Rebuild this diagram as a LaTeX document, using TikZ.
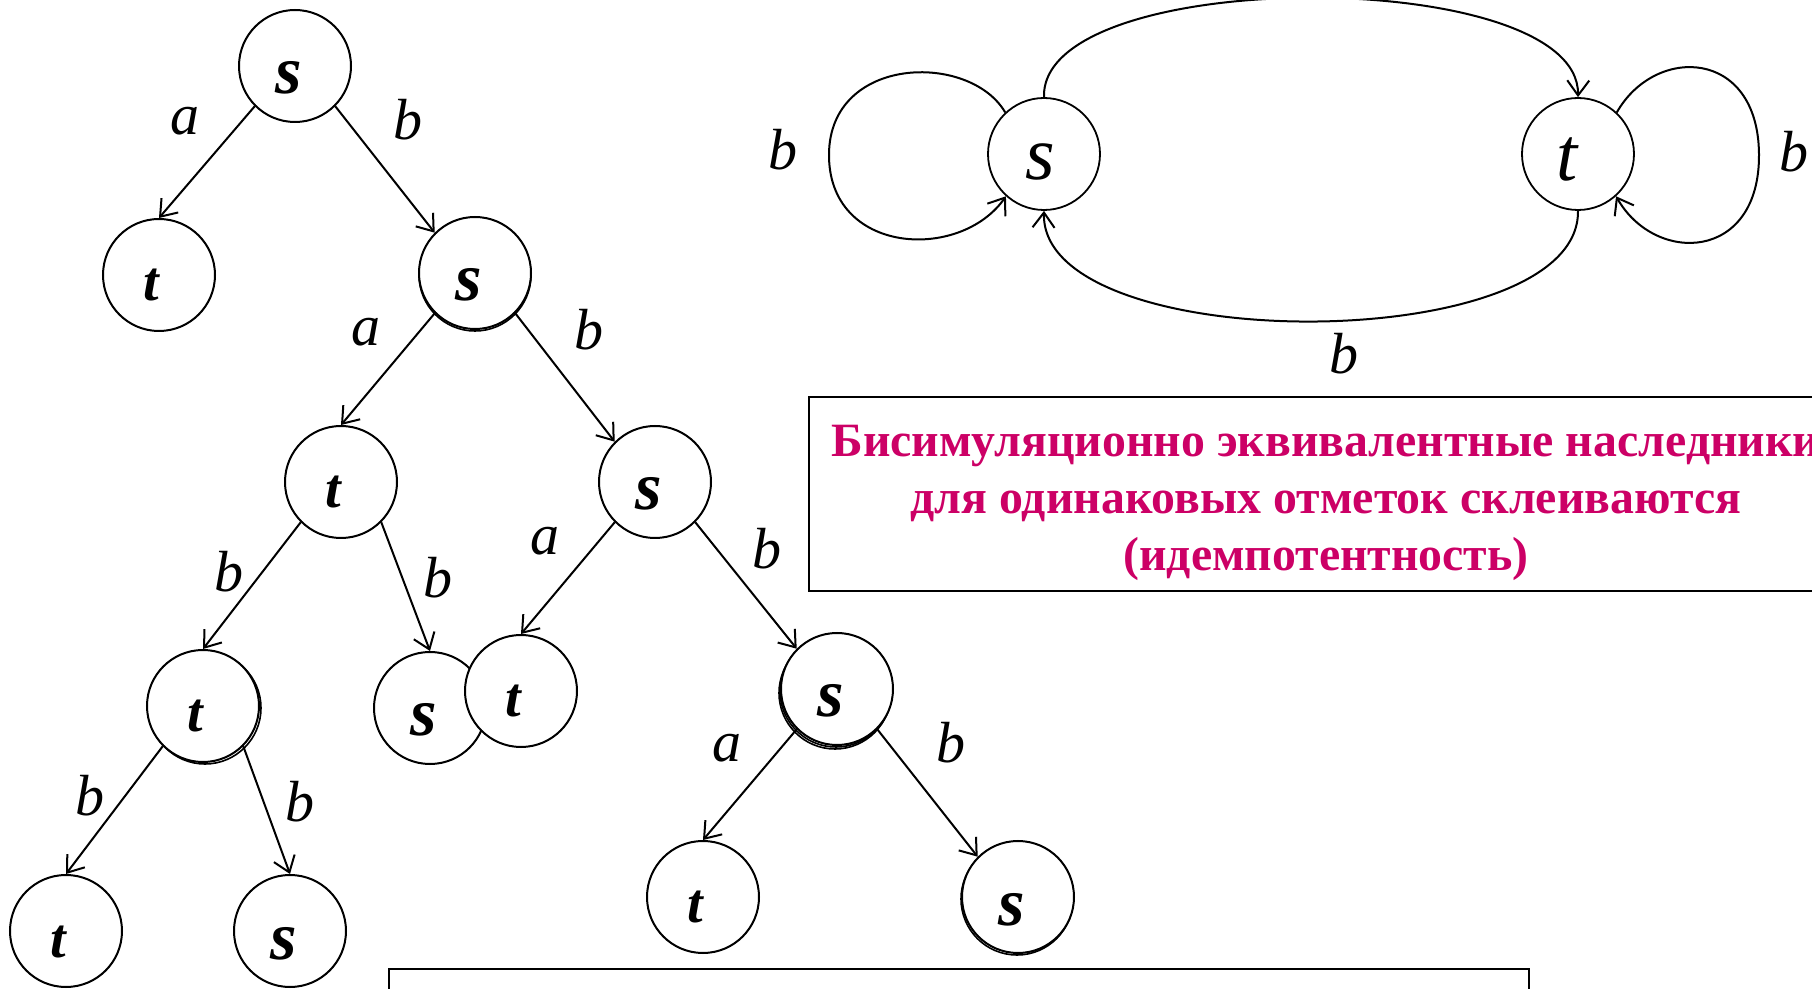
\documentclass[tikz,border=0pt]{standalone}
\usepackage{fontspec}
\setmainfont{Liberation Serif}
\usetikzlibrary{arrows.meta}
\definecolor{mag}{RGB}{204,0,102}
\newcommand{\TS}{\raisebox{-14pt}{\fontsize{34}{34}\selectfont\bfseries\itshape s}\kern6pt}
\newcommand{\TT}{\raisebox{-13pt}{\fontsize{28}{28}\selectfont\bfseries\itshape t}\kern8pt}
\newcommand{\GS}{\raisebox{-12.75pt}{\fontsize{38}{38}\selectfont\itshape s}\kern3.5pt}
\newcommand{\GT}{\raisebox{-13.5pt}{\fontsize{38}{38}\selectfont\itshape t}\kern11pt}
\begin{document}
\begin{tikzpicture}[x=0.5pt,y=-0.5pt,
  st/.style={circle,draw,line width=1pt,fill=white,minimum size=56pt,inner sep=0pt,
    text height=0pt,text depth=0pt},
  gst/.style={circle,draw,line width=0.9pt,fill=white,minimum size=56pt,inner sep=0pt,
    text height=0pt,text depth=0pt},
  lbl/.style={font=\fontsize{29}{29}\selectfont\itshape,inner sep=0pt},
  arr/.style={line width=1pt,-{Straight Barb[length=7.5pt,width=11pt,line width=1pt]}},
  dbl/.style={line width=0.8pt},
  msgtext/.style={align=center,text=mag,inner sep=0pt,
    font=\fontsize{23.9}{28.3}\selectfont\bfseries}]
\useasboundingbox (0,0) rectangle (1812,989);
% extra rims of the stacked circles
\draw[dbl] (475,275) circle[radius=28pt];
\draw[dbl] (205,708) circle[radius=28pt];
\draw[dbl] (836,691) circle[radius=28pt];
\draw[dbl] (835,693) circle[radius=28pt];
\draw[dbl] (1017,899) circle[radius=28pt];
% tree
\node[st] (r)   at (295,66)  {\TS};
\node[st] (n1)  at (159,275) {\TT};
\node[st] (n2)  at (475,273) {\TS};
\node[st] (n3)  at (341,482) {\TT};
\node[st] (n4)  at (655,482) {\TS};
\node[st] (n5)  at (203,706) {\TT};
\node[st] (n6)  at (430,708) {\TS};
\node[st] (n7)  at (521,691) {\TT};
\node[st] (n8)  at (837,689) {\TS};
\node[st] (n9)  at (66,931)  {\TT};
\node[st] (n10) at (290,931) {\TS};
\node[st] (n11) at (703,897) {\TT};
\node[st] (n12) at (1018,897) {\TS};
\draw[arr] (r.south west) -- (n1.north);
\draw[arr] (r.south east) -- (n2.north west);
\draw[arr] (n2.south west) -- (n3.north);
\draw[arr] (n2.south east) -- (n4.north west);
\draw[arr] (n3.south west) -- (n5.north);
\draw[arr] (n3.south east) -- (n6.north);
\draw[arr] (n4.south west) -- (n7.north);
\draw[arr] (n4.south east) -- (n8.north west);
\draw[arr] (n5.south west) -- (n9.north);
\draw[arr] (n5.south east) -- (n10.north);
\draw[arr] (n8.south west) -- (n11.north);
\draw[arr] (n8.south east) -- (n12.north west);
\node[lbl] (l1)  at (185,121) {a};
\node[lbl] (l2)  at (408,120) {b};
\node[lbl] (l3)  at (366,332) {a};
\node[lbl] (l4)  at (589,330) {b};
\node[lbl] (l5)  at (229,572) {b};
\node[lbl] (l6)  at (438,578) {b};
\node[lbl] (l7)  at (545,541) {a};
\node[lbl] (l8)  at (767,549) {b};
\node[lbl] (l9)  at (90,796)  {b};
\node[lbl] (l10) at (300,802) {b};
\node[lbl] (l11) at (727,748) {a};
\node[lbl] (l12) at (951,743) {b};
% quotient graph
\node[gst] (gs) at (1044,154) {\GS};
\node[gst] (gt) at (1578,154) {\GT};
\draw[arr] (gs.133) .. controls (970,52) and (830,55) .. (829,154)
  .. controls (828,255) and (960,262) .. (gs.228);
\draw[arr] (gt.47) .. controls (1655,45) and (1758,48) .. (1759,154)
  .. controls (1760,262) and (1655,265) .. (gt.-48);
\draw[arr] (gs.north) .. controls (1040,-35) and (1580,-35) .. (gt.north);
\draw[arr] (gt.south) .. controls (1580,358) and (1040,358) .. (gs.south);
\node[lbl] (g1) at (783,150)  {b};
\node[lbl] (g2) at (1344,354) {b};
\node[lbl] (g3) at (1794,152) {b};
% boxes
\node[draw,line width=1.2pt,minimum width=517pt,minimum height=97pt] (msg) at (1326,494) {};
\node[msgtext] (msgtxt) at (1326,503)
  {Бисимуляционно эквивалентные наследники\\для одинаковых отметок склеиваются\\(идемпотентность)};
\node[draw,line width=1pt,minimum width=570pt,minimum height=40pt,anchor=north] (bottombox) at (959,968) {};
\end{tikzpicture}
\end{document}
